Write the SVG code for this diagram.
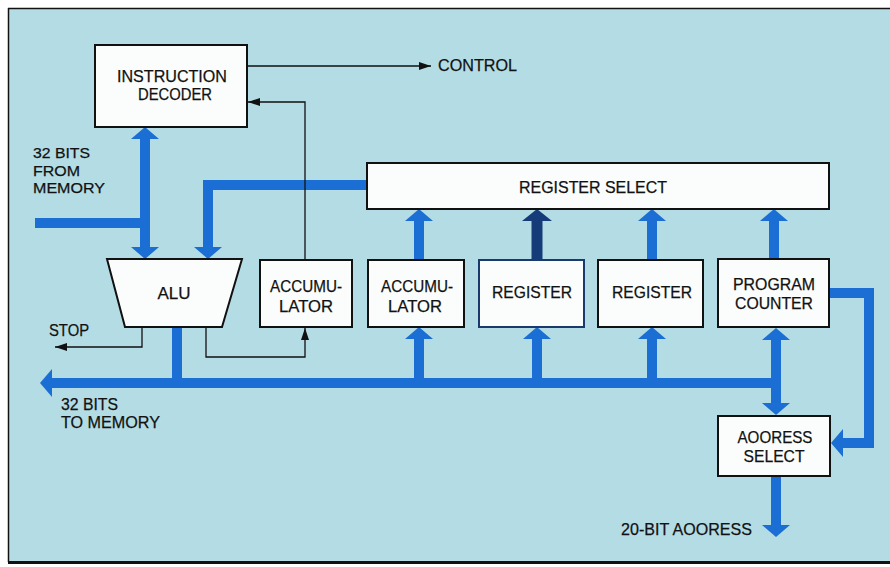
<svg xmlns="http://www.w3.org/2000/svg" width="890" height="567" viewBox="0 0 890 567">
<style>
.box{fill:#fbfdfc;stroke:#111;stroke-width:2}
.lbl{font-family:"Liberation Sans",Arial,sans-serif;font-size:17px;fill:#111;stroke:#111;stroke-width:0.25}
.sm{font-size:15.5px}
.mid{text-anchor:middle}
.bus{fill:none;stroke:#1b6fd4;stroke-width:10;stroke-linejoin:miter}
.navy{fill:none;stroke:#153c78;stroke-width:11}
.thin{fill:none;stroke:#111;stroke-width:1.3}
</style>
<defs>
<marker id="ah" markerUnits="userSpaceOnUse" markerWidth="12" markerHeight="28" viewBox="0 0 12 28" refX="0" refY="14" orient="auto-start-reverse">
<path d="M0,0 L12,14 L0,28 Z" fill="#1b6fd4"/>
</marker>
<marker id="ahn" markerUnits="userSpaceOnUse" markerWidth="12" markerHeight="30" viewBox="0 0 12 30" refX="0" refY="15" orient="auto-start-reverse">
<path d="M0,0 L12,15 L0,30 Z" fill="#153c78"/>
</marker>
<marker id="th" markerUnits="userSpaceOnUse" markerWidth="12" markerHeight="8" viewBox="0 0 12 8" refX="12" refY="4" orient="auto">
<path d="M0,0 L12,4 L0,8 Z" fill="#111"/>
</marker>
</defs>
<rect x="0" y="0" width="890" height="567" fill="#ffffff"/>
<rect x="8" y="8" width="882" height="554" fill="#b4dce4"/>
<line x1="8" y1="8.5" x2="890" y2="8.5" stroke="#111" stroke-width="1.5"/>
<line x1="8.5" y1="8" x2="8.5" y2="562" stroke="#111" stroke-width="1.5"/>
<line x1="8" y1="562.5" x2="890" y2="562.5" stroke="#111" stroke-width="3"/>

<g id="connectors">
<path class="bus" d="M35,223 H145"/>
<path class="bus" d="M145,139 V247" marker-start="url(#ah)" marker-end="url(#ah)"/>
<path class="bus" d="M367,185 H208 V247" marker-end="url(#ah)"/>
<path class="bus" d="M419,260 V221" marker-end="url(#ah)"/>
<path class="navy" d="M537,260 V221" marker-end="url(#ahn)"/>
<path class="bus" d="M652,260 V221" marker-end="url(#ah)"/>
<path class="bus" d="M774,259 V221" marker-end="url(#ah)"/>
<path class="bus" d="M776,383 H52" marker-end="url(#ah)"/>
<path class="bus" d="M177,327 V383"/>
<path class="bus" d="M419,383 V339" marker-end="url(#ah)"/>
<path class="bus" d="M537,383 V339" marker-end="url(#ah)"/>
<path class="bus" d="M652,383 V339" marker-end="url(#ah)"/>
<path class="bus" d="M776,340 V403" marker-start="url(#ah)" marker-end="url(#ah)"/>
<path class="bus" d="M830,293 H869 V443 H843" marker-end="url(#ah)"/>
<path class="bus" d="M776,477 V525" marker-end="url(#ah)"/>
<path class="thin" d="M247,66 H431" marker-end="url(#th)"/>
<path class="thin" d="M305,260 V102 H248" marker-end="url(#th)"/>
<path class="thin" d="M142,327 V347 H55" marker-end="url(#th)"/>
<path class="thin" d="M206,327 V357 H305 V328" marker-end="url(#th)"/>
</g>

<g id="instruction-decoder">
<rect class="box" x="95" y="45" width="152" height="82"/>
<text class="lbl mid" x="172" y="82" textLength="110" lengthAdjust="spacingAndGlyphs">INSTRUCTION</text>
<text class="lbl mid" x="175" y="100" textLength="74" lengthAdjust="spacingAndGlyphs">DECODER</text>
</g>
<g id="register-select">
<rect class="box" x="367" y="163" width="462" height="46"/>
<text class="lbl mid" x="593" y="193" textLength="148" lengthAdjust="spacingAndGlyphs">REGISTER SELECT</text>
</g>
<g id="alu">
<path class="box" d="M107,259 H242 L222,327 H125 Z"/>
<text class="lbl mid" x="174" y="299" textLength="33" lengthAdjust="spacingAndGlyphs">ALU</text>
</g>
<g id="accumulator-1">
<rect class="box" x="260" y="260" width="92" height="67"/>
<text class="lbl mid" x="306" y="292" textLength="72" lengthAdjust="spacingAndGlyphs">ACCUMU-</text>
<text class="lbl mid" x="306" y="312" textLength="54" lengthAdjust="spacingAndGlyphs">LATOR</text>
</g>
<g id="accumulator-2">
<rect class="box" x="368" y="260" width="96" height="67"/>
<text class="lbl mid" x="417" y="292" textLength="72" lengthAdjust="spacingAndGlyphs">ACCUMU-</text>
<text class="lbl mid" x="415" y="312" textLength="54" lengthAdjust="spacingAndGlyphs">LATOR</text>
</g>
<g id="register-1">
<rect class="box" x="479" y="260" width="105" height="67" style="stroke:#1a3a6e"/>
<text class="lbl mid" x="532" y="298" textLength="80" lengthAdjust="spacingAndGlyphs">REGISTER</text>
</g>
<g id="register-2">
<rect class="box" x="598" y="260" width="105" height="67"/>
<text class="lbl mid" x="652" y="298" textLength="80" lengthAdjust="spacingAndGlyphs">REGISTER</text>
</g>
<g id="program-counter">
<rect class="box" x="718" y="259" width="111" height="68"/>
<text class="lbl mid" x="774" y="290" textLength="82" lengthAdjust="spacingAndGlyphs">PROGRAM</text>
<text class="lbl mid" x="774" y="309" textLength="78" lengthAdjust="spacingAndGlyphs">COUNTER</text>
</g>
<g id="address-select">
<rect class="box" x="718" y="416" width="112" height="60"/>
<text class="lbl mid" x="775" y="443" textLength="75" lengthAdjust="spacingAndGlyphs">AOORESS</text>
<text class="lbl mid" x="774" y="462" textLength="61" lengthAdjust="spacingAndGlyphs">SELECT</text>
</g>

<g id="labels">
<text class="lbl" x="438" y="71" textLength="79" lengthAdjust="spacingAndGlyphs">CONTROL</text>
<text class="lbl sm" x="33" y="158" textLength="57" lengthAdjust="spacingAndGlyphs">32 BITS</text>
<text class="lbl sm" x="33" y="175.5" textLength="47" lengthAdjust="spacingAndGlyphs">FROM</text>
<text class="lbl sm" x="33" y="193" textLength="72" lengthAdjust="spacingAndGlyphs">MEMORY</text>
<text class="lbl" x="49" y="336" textLength="40" lengthAdjust="spacingAndGlyphs">STOP</text>
<text class="lbl" x="61" y="410" textLength="57" lengthAdjust="spacingAndGlyphs">32 BITS</text>
<text class="lbl" x="61" y="428" textLength="99" lengthAdjust="spacingAndGlyphs">TO MEMORY</text>
<text class="lbl" x="621" y="535" textLength="131" lengthAdjust="spacingAndGlyphs">20-BIT AOORESS</text>
</g>
</svg>
